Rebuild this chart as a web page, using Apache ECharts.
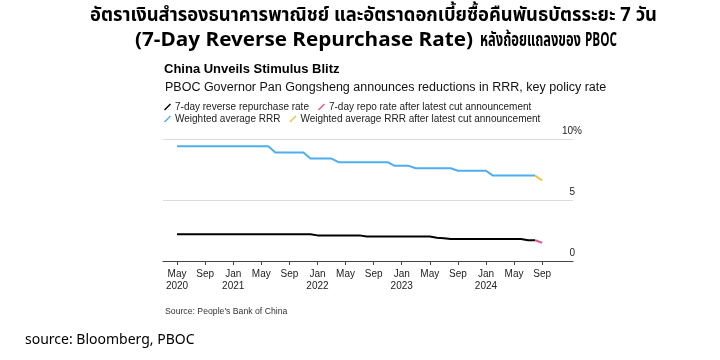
<!DOCTYPE html>
<html>
<head>
<meta charset="utf-8">
<script src="https://cdn.jsdelivr.net/npm/echarts@6/dist/echarts.min.js"></script>
<style>
html,body{margin:0;padding:0;background:#fff;}
#c{width:720px;height:360px;}
</style>
</head>
<body>
<div id="c"></div>
<script>
// Month keys May 2020 .. Aug 2024
const months = [
 '2020-05','2020-06','2020-07','2020-08','2020-09','2020-10','2020-11','2020-12',
 '2021-01','2021-02','2021-03','2021-04','2021-05','2021-06','2021-07','2021-08','2021-09','2021-10','2021-11','2021-12',
 '2022-01','2022-02','2022-03','2022-04','2022-05','2022-06','2022-07','2022-08','2022-09','2022-10','2022-11','2022-12',
 '2023-01','2023-02','2023-03','2023-04','2023-05','2023-06','2023-07','2023-08','2023-09','2023-10','2023-11','2023-12',
 '2024-01','2024-02','2024-03','2024-04','2024-05','2024-06','2024-07','2024-08'
];
// 7-day reverse repurchase rate (%)
const reverseRepo = [
 2.2,2.2,2.2,2.2,2.2,2.2,2.2,2.2,
 2.2,2.2,2.2,2.2,2.2,2.2,2.2,2.2,2.2,2.2,2.2,2.2,
 2.1,2.1,2.1,2.1,2.1,2.1,2.1,2.0,2.0,2.0,2.0,2.0,
 2.0,2.0,2.0,2.0,2.0,1.9,1.87,1.8,1.8,1.8,1.8,1.8,
 1.8,1.8,1.8,1.8,1.8,1.8,1.7,1.7
];
// Weighted average RRR (%)
const rrr = [
 9.4,9.4,9.4,9.4,9.4,9.4,9.4,9.4,
 9.4,9.4,9.4,9.4,9.4,9.4,8.9,8.9,8.9,8.9,8.9,8.4,
 8.4,8.4,8.4,8.1,8.1,8.1,8.1,8.1,8.1,8.1,8.1,7.8,
 7.8,7.8,7.6,7.6,7.6,7.6,7.6,7.6,7.4,7.4,7.4,7.4,
 7.4,7.0,7.0,7.0,7.0,7.0,7.0,7.0
];
// After latest cut announcement (Aug 2024 -> Sep 2024)
const cutMonths = ['2024-08','2024-09'];
const repoAfterCut = [1.7, 1.5];
const rrrAfterCut = [7.0, 6.6];

const tickMonths = ['2020-05','2020-09','2021-01','2021-05','2021-09','2022-01','2022-05','2022-09','2023-01','2023-05','2023-09','2024-01','2024-05','2024-09'];
const tickLabels = ['May\n2020','Sep','Jan\n2021','May','Sep','Jan\n2022','May','Sep','Jan\n2023','May','Sep','Jan\n2024','May','Sep'];

function mIdx(k){const p=k.split('-');return (+p[0]-2020)*12+(+p[1]-1);}
const pairs=(ks,vs)=>ks.map((k,i)=>[mIdx(k),vs[i]]);
const tickVals = tickMonths.map(mIdx);
const labelMap = {}; tickVals.forEach((v,i)=>labelMap[v]=tickLabels[i]);

const F = '"Liberation Sans", Arial, sans-serif';
const TH = 'Tahoma, "Noto Sans Thai", "Noto Sans", "DejaVu Sans", sans-serif';
const slash = 'path://M0,8.6 L8.6,0 L10,1.4 L1.4,10 Z';

// heading pieces: text, left x, target width, centre y
const heading = [
  ['อัตราเงินสำรองธนาคารพาณิชย์ และอัตราดอกเบี้ยซื้อคืนพันธบัตรระยะ 7 วัน', 90, 567, 17],
  ['(7-Day Reverse Repurchase Rate)', 135, 338, 42],
  ['หลังถ้อยแถลงของ', 480, 101, 42],
  ['PBOC', 585, 32, 42]
];
const HS = 19;
const cv = document.createElement('canvas').getContext('2d');
cv.font = 'bold ' + HS + 'px ' + TH;
const headingGraphics = heading.map(h => {
  const w = cv.measureText(h[0]).width || h[2];
  return {type:'text', x:h[1], y:h[3], scaleX:h[2]/w, silent:true,
    style:{text:h[0], fontFamily:TH, fontSize:HS, fontWeight:'bold', fill:'#000',
           align:'left', verticalAlign:'middle'}};
});

const chart = echarts.init(document.getElementById('c'));
chart.setOption({
  animation:false,
  backgroundColor:'#fff',
  graphic: headingGraphics,
  title:[
    {text:'China Unveils Stimulus Blitz', left:164, top:63, padding:0,
     textStyle:{fontFamily:F,fontSize:13,fontWeight:'bold',color:'#000'}},
    {text:'PBOC Governor Pan Gongsheng announces reductions in RRR, key policy rate', left:165, top:81, padding:0,
     textStyle:{fontFamily:F,fontSize:12.5,fontWeight:'normal',color:'#111'}},
    {text:"Source: People's Bank of China", left:165, top:307, padding:0,
     textStyle:{fontFamily:F,fontSize:8.7,fontWeight:'normal',color:'#333'}},
    {text:'source: Bloomberg, PBOC', left:25, top:334, padding:0,
     textStyle:{fontFamily:TH,fontSize:14,fontWeight:'normal',color:'#000'}}
  ],
  legend:[
    {data:['7-day reverse repurchase rate','7-day repo rate after latest cut announcement'],
     left:164, top:102, itemWidth:7, itemHeight:7, itemGap:9, icon:slash, padding:0,
     textStyle:{fontFamily:F,fontSize:10,color:'#222',padding:[0,0,0,-1]}},
    {data:['Weighted average RRR','Weighted average RRR after latest cut announcement'],
     left:164, top:114, itemWidth:7, itemHeight:7, itemGap:9, icon:slash, padding:0,
     textStyle:{fontFamily:F,fontSize:10,color:'#222',padding:[0,0,0,-1]}}
  ],
  grid:{left:163, right:147, top:139, bottom:99},
  xAxis:{type:'value', min:2, max:60.4,
    axisLine:{show:true,lineStyle:{color:'#444',width:1}},
    axisTick:{show:true,length:4,lineStyle:{color:'#444'},customValues:tickVals},
    axisLabel:{customValues:tickVals, formatter:v=>labelMap[v]||'', margin:7,
      fontFamily:F,fontSize:10,color:'#222',lineHeight:12},
    splitLine:{show:false}},
  yAxis:{type:'value', min:0, max:10, interval:5, position:'right',
    axisLine:{show:false}, axisTick:{show:false},
    axisLabel:{inside:false, margin:9, align:'right', verticalAlign:'bottom',
      fontFamily:F, fontSize:10, color:'#222', padding:[0,0,3,0],
      formatter:v=> v===10 ? '10%' : '{p|'+v+'}',
      rich:{p:{fontFamily:F,fontSize:10,color:'#222',padding:[0,7,0,0]}}},
    splitLine:{show:true,lineStyle:{color:'#dcdcdc',width:1}}},
  series:[
    {name:'7-day reverse repurchase rate', type:'line', data:pairs(months,reverseRepo),
     showSymbol:false, color:'#000', lineStyle:{width:2,color:'#000'}},
    {name:'7-day repo rate after latest cut announcement', type:'line', data:pairs(cutMonths,repoAfterCut),
     showSymbol:false, color:'#e8559a', lineStyle:{width:2,color:'#e8559a'}},
    {name:'Weighted average RRR', type:'line', data:pairs(months,rrr),
     showSymbol:false, color:'#4eaef0', lineStyle:{width:2,color:'#4eaef0'}},
    {name:'Weighted average RRR after latest cut announcement', type:'line', data:pairs(cutMonths,rrrAfterCut),
     showSymbol:false, color:'#f2c23a', lineStyle:{width:2,color:'#f2c23a'}}
  ]
});
</script>
</body>
</html>
